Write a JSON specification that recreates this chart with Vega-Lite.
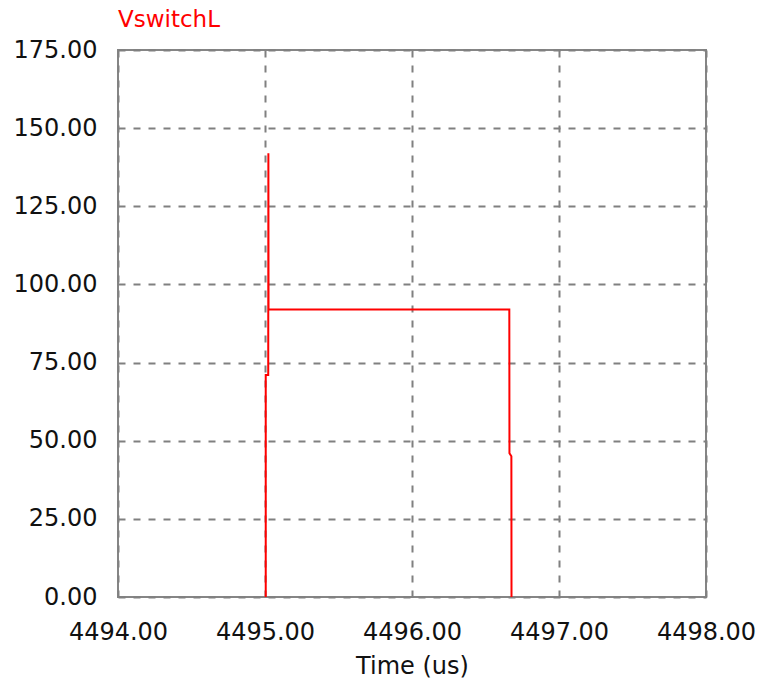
{
  "$schema": "https://vega.github.io/schema/vega-lite/v6.json",
  "width": 588,
  "height": 547,
  "autosize": {"type": "none"},
  "padding": {"left": 118, "top": 50, "right": 53, "bottom": 86},
  "background": "white",
  "title": {
    "text": "VswitchL",
    "anchor": "start",
    "frame": "group",
    "color": "#ff0000",
    "font": "DejaVu Sans",
    "fontSize": 23,
    "fontWeight": "normal",
    "offset": 6
  },
  "config": {
    "view": {"stroke": "#858585", "strokeWidth": 2},
    "axis": {
      "labelFont": "DejaVu Sans",
      "labelFontSize": 24,
      "labelColor": "#111111",
      "titleFont": "DejaVu Sans",
      "titleFontSize": 24,
      "titleFontWeight": "normal",
      "titleColor": "#111111",
      "tickSize": 0,
      "domain": false,
      "gridColor": "#808080",
      "gridDash": [7, 8],
      "gridWidth": 2,
      "gridOpacity": 1
    }
  },
  "data": {
    "values": [
      {"i": 0, "t": 4495.005, "v": 0},
      {"i": 1, "t": 4495.005, "v": 71},
      {"i": 2, "t": 4495.022, "v": 71},
      {"i": 3, "t": 4495.023, "v": 142},
      {"i": 4, "t": 4495.024, "v": 92},
      {"i": 5, "t": 4496.662, "v": 92},
      {"i": 6, "t": 4496.663, "v": 46},
      {"i": 7, "t": 4496.676, "v": 45},
      {"i": 8, "t": 4496.677, "v": 0}
    ]
  },
  "mark": {"type": "line", "color": "#ff0000", "strokeWidth": 2, "interpolate": "linear"},
  "encoding": {
    "order": {"field": "i", "type": "quantitative"},
    "x": {
      "field": "t",
      "type": "quantitative",
      "scale": {"domain": [4494, 4498], "nice": false, "zero": false},
      "axis": {
        "values": [4494, 4495, 4496, 4497, 4498],
        "format": ".2f",
        "title": "Time (us)",
        "labelPadding": 23,
        "titlePadding": 10,
        "labelFlush": false
      }
    },
    "y": {
      "field": "v",
      "type": "quantitative",
      "scale": {"domain": [0, 175], "nice": false},
      "axis": {
        "values": [0, 25, 50, 75, 100, 125, 150, 175],
        "format": ".2f",
        "title": null,
        "labelPadding": 21
      }
    }
  }
}
